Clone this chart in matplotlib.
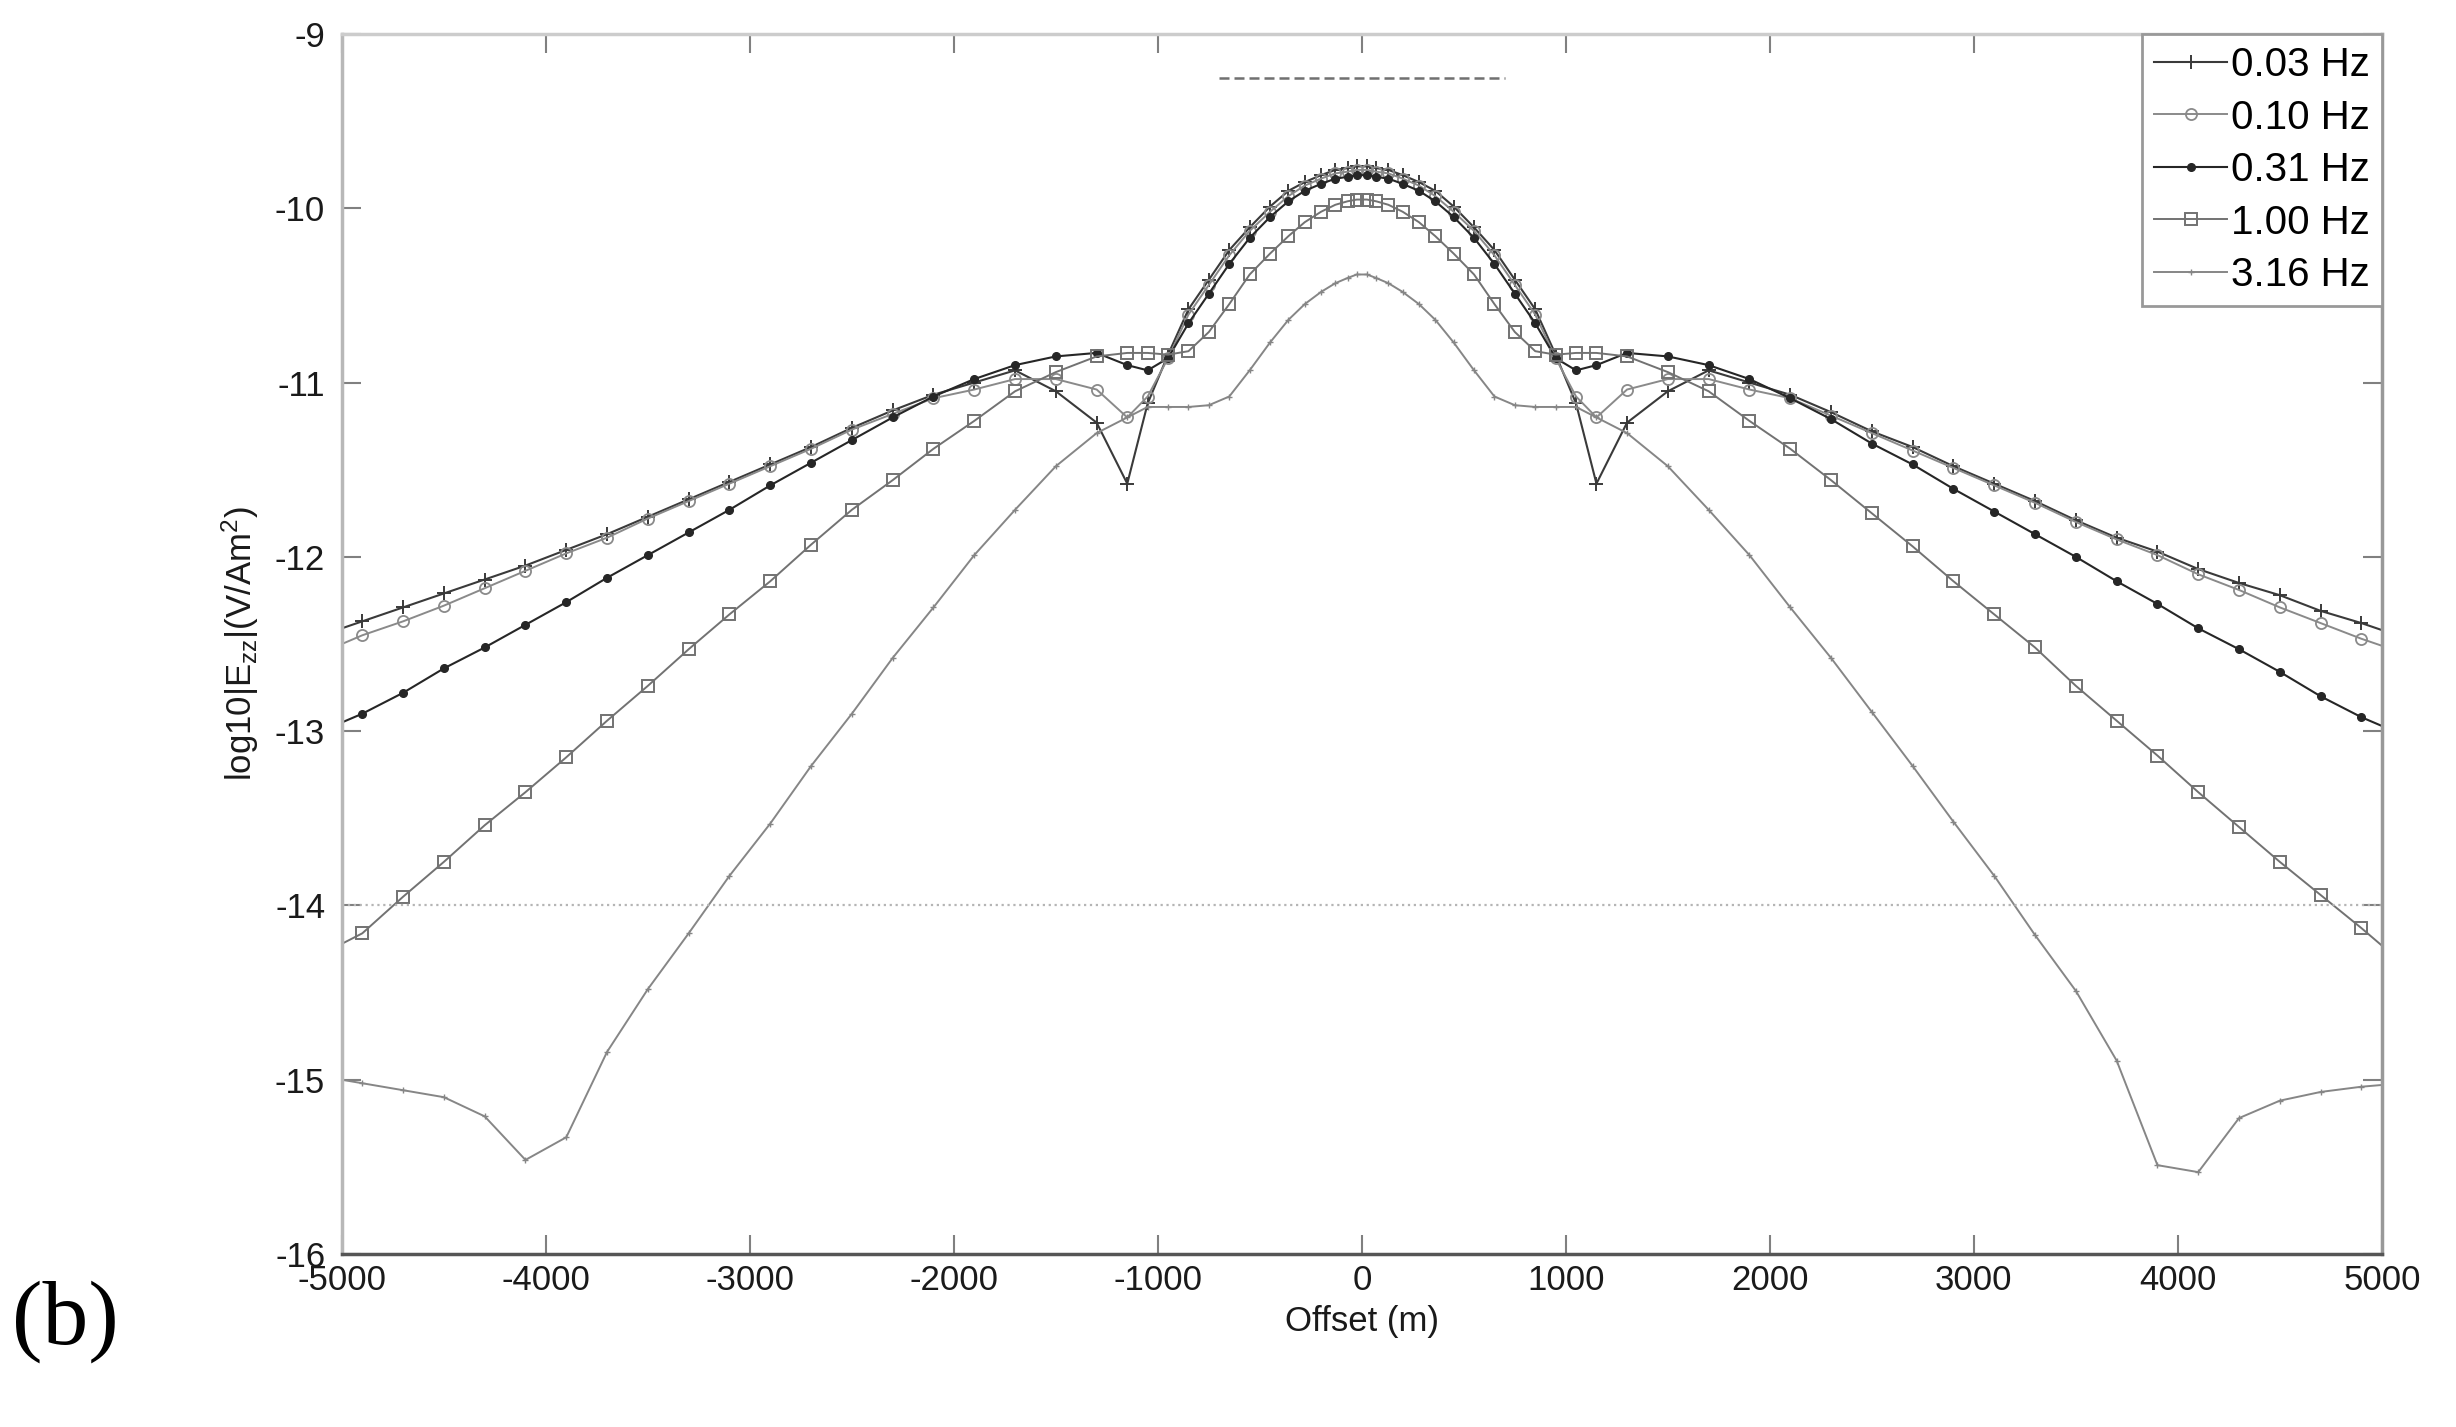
import numpy as np
import matplotlib
matplotlib.use('Agg')
import matplotlib.pyplot as plt

plt.rcParams['font.family'] = ['Liberation Sans', 'DejaVu Sans']
plt.rcParams['mathtext.default'] = 'regular'
plt.rcParams['axes.unicode_minus'] = False

#%% data (offset in m, log10|Ezz|)
offset = [-5000, -4900, -4700, -4500, -4300, -4100, -3900, -3700, -3500, -3300,
          -3100, -2900, -2700, -2500, -2300, -2100, -1900, -1700, -1500, -1300,
          -1150, -1050, -950, -850, -750, -650, -550, -450, -360, -280,
          -200, -130, -70, -25,
          25, 70, 130, 200, 280, 360, 450, 550, 650, 750,
          850, 950, 1050, 1150, 1300, 1500, 1700, 1900, 2100, 2300,
          2500, 2700, 2900, 3100, 3300, 3500, 3700, 3900, 4100, 4300,
          4500, 4700, 4900, 5000]

ezz_003 = [-12.41, -12.37, -12.29, -12.21, -12.13, -12.05, -11.96, -11.87, -11.77, -11.67,
           -11.57, -11.47, -11.37, -11.26, -11.16, -11.07, -11.00, -10.93, -11.05, -11.23,
           -11.58, -11.12, -10.84, -10.58, -10.41, -10.24, -10.11, -9.99, -9.90, -9.85,
           -9.81, -9.78, -9.77, -9.76,
           -9.76, -9.77, -9.78, -9.81, -9.85, -9.90, -9.99, -10.11, -10.24, -10.41,
           -10.58, -10.84, -11.12, -11.58, -11.23, -11.05, -10.93, -11.00, -11.07, -11.17,
           -11.28, -11.37, -11.48, -11.58, -11.68, -11.79, -11.89, -11.97, -12.07, -12.15,
           -12.22, -12.31, -12.38, -12.42]

ezz_010 = [-12.50, -12.45, -12.37, -12.28, -12.18, -12.08, -11.98, -11.89, -11.78, -11.68,
           -11.58, -11.48, -11.38, -11.27, -11.18, -11.09, -11.04, -10.98, -10.98, -11.04,
           -11.20, -11.08, -10.86, -10.61, -10.44, -10.27, -10.13, -10.02, -9.93, -9.87,
           -9.83, -9.80, -9.79, -9.78,
           -9.78, -9.79, -9.80, -9.83, -9.87, -9.93, -10.02, -10.13, -10.27, -10.44,
           -10.61, -10.86, -11.08, -11.20, -11.04, -10.98, -10.98, -11.04, -11.09, -11.19,
           -11.29, -11.39, -11.49, -11.59, -11.69, -11.80, -11.90, -11.99, -12.10, -12.19,
           -12.29, -12.38, -12.47, -12.51]

ezz_031 = [-12.95, -12.90, -12.78, -12.64, -12.52, -12.39, -12.26, -12.12, -11.99, -11.86,
           -11.73, -11.59, -11.46, -11.33, -11.20, -11.08, -10.98, -10.90, -10.85, -10.83,
           -10.90, -10.93, -10.86, -10.66, -10.49, -10.32, -10.17, -10.05, -9.96, -9.90,
           -9.86, -9.83, -9.82, -9.81,
           -9.81, -9.82, -9.83, -9.86, -9.90, -9.96, -10.05, -10.17, -10.32, -10.49,
           -10.66, -10.86, -10.93, -10.90, -10.83, -10.85, -10.90, -10.98, -11.09, -11.21,
           -11.35, -11.47, -11.61, -11.74, -11.87, -12.00, -12.14, -12.27, -12.41, -12.53,
           -12.66, -12.80, -12.92, -12.97]

ezz_100 = [-14.22, -14.16, -13.95, -13.75, -13.54, -13.35, -13.15, -12.94, -12.74, -12.53,
           -12.33, -12.14, -11.93, -11.73, -11.56, -11.38, -11.22, -11.05, -10.94, -10.85,
           -10.83, -10.83, -10.84, -10.82, -10.71, -10.55, -10.38, -10.26, -10.16, -10.08,
           -10.02, -9.98, -9.96, -9.95,
           -9.95, -9.96, -9.98, -10.02, -10.08, -10.16, -10.26, -10.38, -10.55, -10.71,
           -10.82, -10.84, -10.83, -10.83, -10.85, -10.94, -11.05, -11.22, -11.38, -11.56,
           -11.75, -11.94, -12.14, -12.33, -12.52, -12.74, -12.94, -13.14, -13.35, -13.55,
           -13.75, -13.94, -14.13, -14.23]

ezz_316 = [-15.00, -15.02, -15.06, -15.10, -15.21, -15.46, -15.33, -14.84, -14.48, -14.16,
           -13.83, -13.53, -13.20, -12.90, -12.58, -12.29, -11.99, -11.73, -11.48, -11.29,
           -11.20, -11.14, -11.14, -11.14, -11.13, -11.08, -10.93, -10.77, -10.64, -10.55,
           -10.48, -10.43, -10.40, -10.38,
           -10.38, -10.40, -10.43, -10.48, -10.55, -10.64, -10.77, -10.93, -11.08, -11.13,
           -11.14, -11.14, -11.14, -11.20, -11.29, -11.48, -11.73, -11.99, -12.29, -12.58,
           -12.89, -13.20, -13.52, -13.83, -14.17, -14.49, -14.89, -15.49, -15.53, -15.22,
           -15.12, -15.07, -15.04, -15.03]

labels = ['0.03 Hz', '0.10 Hz', '0.31 Hz', '1.00 Hz', '3.16 Hz']

source_x = [-700, 700]
source_y = [-9.25, -9.25]
noise_floor = -14

#%% plot
fig = plt.figure(figsize=(24.56, 14.27), dpi=100)
ax = fig.add_axes([0.1392, 0.1212, 0.8306, 0.8550])

inner = list(range(1, len(offset) - 1))

ax.plot(offset, ezz_003, color='#3a3a3a', lw=1.5, marker='+', ms=10, mew=1.4,
        markevery=inner, label=labels[0])
ax.plot(offset, ezz_010, color='#8a8a8a', lw=1.4, marker='o', ms=8, mew=1.3,
        mfc='none', markevery=inner, label=labels[1])
ax.plot(offset, ezz_031, color='#262626', lw=1.5, marker='.', ms=11,
        markevery=inner, label=labels[2])
ax.plot(offset, ezz_100, color='#727272', lw=1.4, marker='s', ms=9, mew=1.4,
        mfc='none', markevery=inner, label=labels[3])
ax.plot(offset, ezz_316, color='#868686', lw=1.4, marker='+', ms=5, mew=1.0,
        markevery=inner, label=labels[4])

ax.plot(source_x, source_y, color='#707070', lw=1.8, dashes=(4, 2))
ax.axhline(noise_floor, color='#b5b5b5', lw=1.6, ls=':')

ax.set_xlim(-5000, 5000)
ax.set_ylim(-16, -9)
ax.set_xticks(np.arange(-5000, 5001, 1000))
ax.set_yticks(np.arange(-16, -8, 1))

ax.tick_params(direction='in', length=14, width=1.5, colors='#808080',
               labelcolor='#1a1a1a', labelsize=25, top=True, right=True, pad=7)
ax.tick_params(axis='y', pad=12)

ax.spines['left'].set_color('#b8b8b8')
ax.spines['top'].set_color('#cccccc')
ax.spines['right'].set_color('#999999')
ax.spines['bottom'].set_color('#555555')
for s in ax.spines.values():
    s.set_linewidth(2.5)

ax.set_xlabel('Offset (m)', fontsize=25, color='#1a1a1a', labelpad=6)
ax.set_ylabel('log10|E$_{zz}$|(V/Am$^2$)', fontsize=25, color='#1a1a1a', labelpad=10)

leg = ax.legend(loc='upper right', bbox_to_anchor=(1.0, 1.0), borderaxespad=0.0,
                fontsize=29, numpoints=1, handlelength=1.8, handletextpad=0.1,
                labelspacing=0.36, borderpad=0.3, fancybox=False, framealpha=1)
leg.get_frame().set_edgecolor('#999999')
leg.get_frame().set_linewidth(2.0)

fig.text(0.005, 0.074, '(b)', fontsize=66, family='Liberation Serif',
         va='center', ha='left')

fig.savefig('out.png', dpi=100)
